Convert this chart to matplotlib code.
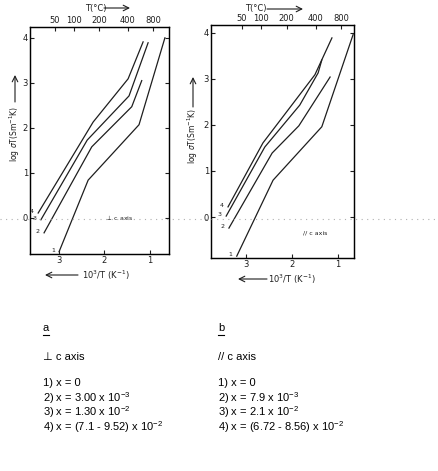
import matplotlib
matplotlib.use("Agg")
import matplotlib.pyplot as plt
from matplotlib.lines import Line2D

plt.rcParams['font.family'] = ['DejaVu Sans']
plt.rcParams['mathtext.fontset'] = 'custom'
plt.rcParams['mathtext.rm'] = 'Liberation Sans'

W, H = 439, 471

# 10^3/T (K^-1) and log sigma T for each curve, panel a (perpendicular to c axis)
a_x1 = [3.00, 2.36, 1.24, 0.67]
a_y1 = [-0.75, 0.84, 2.07, 4.00]
a_x2 = [3.33, 2.28, 1.40, 1.18]
a_y2 = [-0.33, 1.58, 2.47, 3.05]
a_x3 = [3.40, 2.38, 1.46, 1.04]
a_y3 = [-0.04, 1.73, 2.71, 3.89]
a_x4 = [3.46, 2.25, 1.48, 1.15]
a_y4 = [0.11, 2.13, 3.09, 3.91]

# panel b (parallel to c axis)
b_x1 = [3.20, 2.41, 1.35, 0.67]
b_y1 = [-0.85, 0.80, 1.96, 3.96]
b_x2 = [3.37, 2.43, 1.85, 1.17]
b_y2 = [-0.24, 1.39, 1.98, 3.04]
b_x3 = [3.43, 2.59, 1.83, 1.43, 1.35]
b_y3 = [0.02, 1.52, 2.43, 3.13, 3.41]
b_x4 = [3.39, 2.63, 1.50, 1.13]
b_y4 = [0.22, 1.61, 3.09, 3.89]

curve_labels = ["1", "2", "3", "4"]
x_ticks = [3, 2, 1]
y_ticks = [0, 1, 2, 3, 4]
temp_ticks = [50, 100, 200, 400, 800]

legend_a = ["1) x = 0",
            "2) x = 3.00 x 10$^{\\mathregular{-3}}$",
            "3) x = 1.30 x 10$^{\\mathregular{-2}}$",
            "4) x = (7.1 - 9.52) x 10$^{\\mathregular{-2}}$"]
legend_b = ["1) x = 0",
            "2) x = 7.9 x 10$^{\\mathregular{-3}}$",
            "3) x = 2.1 x 10$^{\\mathregular{-2}}$",
            "4) x = (6.72 - 8.56) x 10$^{\\mathregular{-2}}$"]

INK = "#1e1e1e"
CAP_FONT = ["Liberation Sans", "DejaVu Sans"]


def px(x, y):
    return x / W, 1 - y / H


def panel(rect, xlim, ylim, xs, ys, note, note_xy):
    ax = fig.add_axes(rect)
    for x, y, lab in zip(xs, ys, curve_labels):
        ax.plot(x, y, color=INK, lw=0.9)
        ax.annotate(lab, (x[0], y[0]), xytext=(-3, 1), textcoords="offset points",
                    ha="right", va="center", fontsize=4.5, color=INK)
    ax.set_xlim(*xlim)
    ax.set_ylim(*ylim)
    ax.set_xticks(x_ticks)
    ax.set_yticks(y_ticks)
    ax.tick_params(direction="in", length=3, width=0.8, labelsize=6, pad=1.5,
                   colors=INK, right=True)
    ax.tick_params(axis="y", labelright=False)
    for s in ax.spines.values():
        s.set_linewidth(1.0)
        s.set_color(INK)
    top = ax.twiny()
    top.set_xlim(*xlim)
    top.set_xticks([1000 / (t + 273) for t in temp_ticks])
    top.set_xticklabels([str(t) for t in temp_ticks])
    top.tick_params(direction="in", length=3, width=0.8, labelsize=6, pad=1.5, colors=INK)
    ax.text(*note_xy, note, fontsize=4.5, color=INK, ha="left", va="center")
    return ax


fig = plt.figure(figsize=(W / 100, H / 100), dpi=100)

# scan artifact: faint dotted line across the page
fig.add_artist(Line2D([0, 1], [1 - 219 / H] * 2, transform=fig.transFigure,
                      ls=(0, (1, 4)), lw=0.8, color="#b0b0b0"))

panel([30 / W, 1 - 254 / H, 139 / W, 227 / H], (3.64, 0.58), (-0.80, 4.24),
      [a_x1, a_x2, a_x3, a_x4], [a_y1, a_y2, a_y3, a_y4],
      "$\\perp$ c axis", (1.98, 0.0))
panel([211 / W, 1 - 258 / H, 143 / W, 233 / H], (3.76, 0.65), (-0.89, 4.17),
      [b_x1, b_x2, b_x3, b_x4], [b_y1, b_y2, b_y3, b_y4],
      "// c axis", (1.77, -0.35))

arrow = dict(arrowstyle="->", lw=0.8, color=INK, shrinkA=0, shrinkB=0)

# axis titles with arrows
for tx, ax0, ax1, y in [(85, 104, 130, 8), (245, 267, 303, 9)]:
    fig.text(*px(tx, y), "T(°C)", fontsize=6, ha="left", va="center", color=INK)
    fig.add_artist(plt.Annotation("", xy=px(ax1, y), xytext=px(ax0, y),
                                  xycoords="figure fraction", arrowprops=arrow))
for tx, ax0, ax1, y in [(82, 78, 45, 275), (268, 267, 238, 279)]:
    fig.text(*px(tx, y), "10$^{\\mathregular{3}}$/T (K$^{\\mathregular{-1}}$)", fontsize=6,
             ha="left", va="center", color=INK)
    fig.add_artist(plt.Annotation("", xy=px(ax1, y), xytext=px(ax0, y),
                                  xycoords="figure fraction", arrowprops=arrow))
for x, ty, a0, a1 in [(15, 134, 102, 75), (193, 136, 107, 77)]:
    fig.text(*px(x, ty), "log $\\sigma$T(Sm$^{\\mathregular{-1}}$K)", fontsize=5.5, rotation=90,
             ha="center", va="center", color=INK)
    fig.add_artist(plt.Annotation("", xy=px(x, a1), xytext=px(x, a0),
                                  xycoords="figure fraction", arrowprops=arrow))

# caption block
for x0, letter, axis_txt, lines in [(43, "a", "⊥ c axis", legend_a),
                                    (218, "b", "// c axis", legend_b)]:
    fig.text(*px(x0, 328), letter, fontsize=8, family=CAP_FONT, va="center")
    fig.add_artist(Line2D([x0 / W, (x0 + 6) / W], [1 - 335 / H] * 2,
                          transform=fig.transFigure, lw=0.8, color="black"))
    fig.text(*px(x0, 357), axis_txt, fontsize=8, family=CAP_FONT, va="center")
    for i, line in enumerate(lines):
        fig.text(*px(x0, 383 + 14.7 * i), line, fontsize=8, family=CAP_FONT,
                 va="center")

fig.savefig("out.png", dpi=100)
